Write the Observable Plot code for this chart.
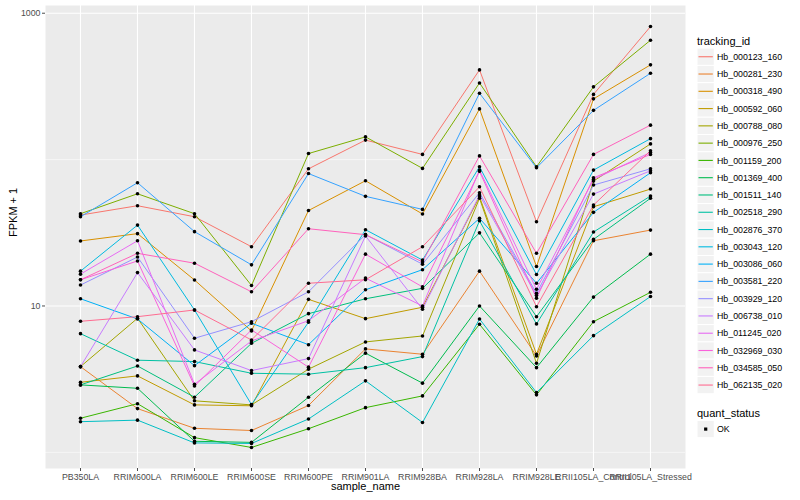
<!DOCTYPE html>
<html><head><meta charset="utf-8">
<script src="https://cdn.jsdelivr.net/npm/d3@7"></script>
<script src="https://cdn.jsdelivr.net/npm/@observablehq/plot@0.6"></script>
<style>
body{margin:0;background:#fff;font-family:"Liberation Sans",Arial,sans-serif}
#wrap{position:relative;width:800px;height:500px;overflow:hidden}
#chart{position:absolute;left:0;top:0}
#legend{position:absolute;left:690px;top:0}
</style></head><body>
<div id="wrap"><div id="chart"></div><svg id="legend" width="110" height="500"></svg></div>
<script>
const samples = ["PB350LA","RRIM600LA","RRIM600LE","RRIM600SE","RRIM600PE","RRIM901LA","RRIM928BA","RRIM928LA","RRIM928LE","RRII105LA_Control","RRII105LA_Stressed"];
const trackingIds = ["Hb_000123_160","Hb_000281_230","Hb_000318_490","Hb_000592_060","Hb_000788_080","Hb_000976_250","Hb_001159_200","Hb_001369_400","Hb_001511_140","Hb_002518_290","Hb_002876_370","Hb_003043_120","Hb_003086_060","Hb_003581_220","Hb_003929_120","Hb_006738_010","Hb_011245_020","Hb_032969_030","Hb_034585_050","Hb_062135_020"];
const seriesColors = ["#F8766D","#EA8331","#D89000","#C09B00","#A3A500","#7CAE00","#39B600","#00BB4E","#00BF7D","#00C1A3","#00BFC4","#00BAE0","#00B0F6","#35A2FF","#9590FF","#C77CFF","#E76BF3","#FA62DB","#FF62BC","#FF6C91"];

// FPKM + 1 per sample (same order as samples)
const hb_000123_160 = [41.8, 48.4, 40.7, 25.4, 86.5, 135.9, 108.5, 410, 37.6, 279, 811];
const hb_000281_230 = [3.85, 1.99, 1.46, 1.41, 2.09, 5.09, 4.68, 17.3, 4.56, 27.9, 33.0];
const hb_000318_490 = [27.8, 31.2, 15.05, 6.75, 44.9, 71.7, 42.5, 222, 18.6, 260, 444];
const hb_000592_060 = [3.01, 3.33, 2.11, 2.08, 11.1, 8.19, 9.80, 55.7, 4.68, 47.6, 62.9];
const hb_000788_080 = [3.85, 8.24, 2.25, 2.11, 3.70, 5.68, 6.24, 54.4, 4.06, 71.3, 128];
const hb_000976_250 = [42.7, 58.4, 42.7, 13.8, 110, 143, 87.1, 334, 89.3, 314, 654];
const hb_001159_200 = [1.71, 2.15, 1.26, 1.08, 1.45, 2.02, 2.43, 7.50, 2.47, 7.81, 12.4];
const hb_001369_400 = [2.89, 2.74, 1.19, 1.17, 2.38, 4.76, 2.97, 10.0, 3.79, 11.5, 22.6];
const hb_001511_140 = [2.89, 3.89, 2.38, 5.56, 8.86, 11.2, 13.2, 31.6, 8.45, 28.5, 54.4];
const hb_002518_290 = [6.47, 4.26, 4.17, 3.47, 3.42, 3.79, 4.51, 38.2, 7.54, 32.0, 56.4];
const hb_002876_370 = [1.62, 1.66, 1.16, 1.15, 1.69, 3.08, 1.60, 8.15, 2.56, 6.27, 11.6];
const hb_003043_120 = [17.3, 35.7, 9.39, 2.12, 7.74, 33.2, 20.6, 89.3, 16.4, 84.8, 139];
const hb_003086_060 = [11.2, 8.15, 3.91, 7.62, 5.44, 12.9, 17.7, 39.7, 14.3, 43.6, 81.3];
const hb_003581_220 = [40.7, 69.5, 32.2, 19.1, 80.3, 56.1, 45.7, 284, 87.9, 217, 389];
const hb_003929_120 = [13.9, 21.6, 6.02, 7.81, 12.5, 30.7, 19.3, 59.4, 12.2, 67.0, 86.5];
const hb_006738_010 = [3.85, 16.9, 5.01, 3.62, 4.37, 30.1, 9.50, 57.2, 11.8, 58.1, 83.9];
const hb_011245_020 = [16.5, 27.9, 2.92, 5.77, 7.93, 15.5, 10.0, 84.8, 13.0, 73.2, 112];
const hb_032969_030 = [15.1, 20.3, 2.84, 6.86, 3.82, 22.6, 13.5, 83.1, 11.3, 75.1, 108.5];
const hb_034585_050 = [15.1, 22.9, 19.6, 12.5, 33.7, 30.7, 20.0, 106, 22.9, 108.5, 172];
const hb_062135_020 = [7.86, 8.45, 9.39, 5.86, 14.3, 15.1, 25.4, 65.2, 9.89, 48.9, 115];

const yTickLabels = [10, 1000];
const yMinorBreaks = [1, 100];

const seriesValues = [hb_000123_160, hb_000281_230, hb_000318_490, hb_000592_060, hb_000788_080, hb_000976_250, hb_001159_200, hb_001369_400, hb_001511_140, hb_002518_290, hb_002876_370, hb_003043_120, hb_003086_060, hb_003581_220, hb_003929_120, hb_006738_010, hb_011245_020, hb_032969_030, hb_034585_050, hb_062135_020];

const rows = [];
trackingIds.forEach((id, i) => seriesValues[i].forEach((v, j) => rows.push({id, sample: samples[j], value: v, quant_status: "OK"})));

const ext = d3.extent(rows, d => Math.log10(d.value));
const pad = (ext[1] - ext[0]) * 0.05;
const yDomain = [Math.pow(10, ext[0] - pad), Math.pow(10, ext[1] + pad)];

const chart = Plot.plot({
  width: 800, height: 500,
  marginLeft: 45, marginRight: 115, marginTop: 5, marginBottom: 32,
  style: {fontFamily: "Liberation Sans, Arial, sans-serif", fontSize: "8.8px", background: "transparent"},
  x: {type: "point", domain: samples, padding: 0.6, label: null},
  y: {type: "log", domain: yDomain, label: null},
  color: {domain: trackingIds, range: seriesColors},
  marks: [
    Plot.frame({fill: "#EBEBEB", stroke: "none"}),
    Plot.gridY(yMinorBreaks, {stroke: "white", strokeOpacity: 1, strokeWidth: 0.55}),
    Plot.gridY(yTickLabels, {stroke: "white", strokeOpacity: 1, strokeWidth: 1.1}),
    Plot.gridX({stroke: "white", strokeOpacity: 1, strokeWidth: 1.1}),
    Plot.axisX({tickSize: 3, tickPadding: 2, color: "#4D4D4D", label: null}),
    Plot.axisY(yTickLabels, {tickSize: 3, tickPadding: 2, color: "#4D4D4D", tickFormat: d => String(d), label: null}),
    Plot.line(rows, {x: "sample", y: "value", z: "id", stroke: "id", strokeWidth: 1}),
    Plot.dot(rows, {x: "sample", y: "value", fill: "black", stroke: "none", r: 1.8}),
    Plot.text(["sample_name"], {text: d => d, frameAnchor: "bottom", dy: 21, fontSize: 11, fill: "black"}),
    Plot.text(["FPKM + 1"], {text: d => d, frameAnchor: "left", dx: -32, rotate: -90, fontSize: 11, fill: "black"})
  ]
});
document.getElementById("chart").appendChild(chart);

// Legend
const lg = d3.select("#legend").style("font-family", "Liberation Sans, Arial, sans-serif");
lg.append("text").attr("x", 7).attr("y", 44.5).attr("font-size", 11).attr("fill", "black").text("tracking_id");
const keyH = 17.28, key0 = 48.1;
trackingIds.forEach((id, i) => {
  const y = key0 + i * keyH;
  lg.append("rect").attr("x", 7).attr("y", y).attr("width", 17.28).attr("height", keyH).attr("fill", "#F2F2F2").attr("stroke", "white").attr("stroke-width", 1);
  lg.append("line").attr("x1", 8.5).attr("x2", 22.8).attr("y1", y + keyH / 2).attr("y2", y + keyH / 2).attr("stroke", seriesColors[i]).attr("stroke-width", 1.1);
  lg.append("text").attr("x", 27).attr("y", y + keyH / 2).attr("dy", "0.35em").attr("font-size", 8.8).attr("fill", "black").text(id);
});
lg.append("text").attr("x", 7).attr("y", 416.5).attr("font-size", 11).attr("fill", "black").text("quant_status");
lg.append("rect").attr("x", 7).attr("y", 420.4).attr("width", 17.28).attr("height", keyH).attr("fill", "#F2F2F2").attr("stroke", "white");
lg.append("rect").attr("x", 14.1).attr("y", 427.5).attr("width", 3.2).attr("height", 3.2).attr("fill", "black");
lg.append("text").attr("x", 27).attr("y", 420.4 + keyH / 2).attr("dy", "0.35em").attr("font-size", 8.8).attr("fill", "black").text("OK");
</script>
</body></html>
